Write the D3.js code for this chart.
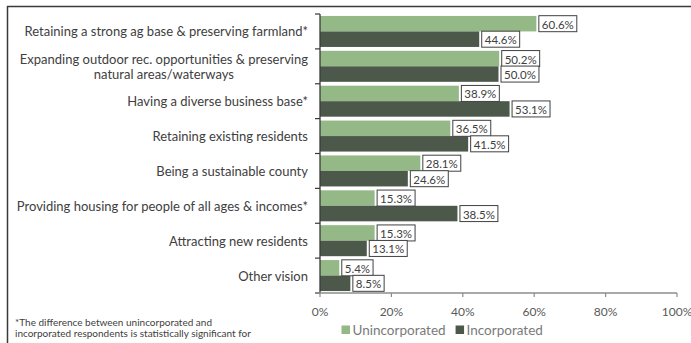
<!DOCTYPE html>
<html>
<head>
<meta charset="utf-8">
<script src="https://cdn.jsdelivr.net/npm/d3@7"></script>
<style>
  html, body { margin: 0; padding: 0; background: #fff; }
  svg { display: block; }
  text { font-family: Lato, "Open Sans", sans-serif; }
</style>
</head>
<body>
<svg id="chart" width="691" height="343"></svg>
<script>
// Vision priorities by respondent type
const categories = [
  ["Retaining a strong ag base & preserving farmland*"],
  ["Expanding outdoor rec. opportunities & preserving", "natural areas/waterways"],
  ["Having a diverse business base*"],
  ["Retaining existing residents"],
  ["Being a sustainable county"],
  ["Providing housing for people of all ages & incomes*"],
  ["Attracting new residents"],
  ["Other vision"]
];
const unincorporated = [60.6, 50.2, 38.9, 36.5, 28.1, 15.3, 15.3, 5.4];
const incorporated   = [44.6, 50.0, 53.1, 41.5, 24.6, 38.5, 13.1, 8.5];
const seriesNames = ["Unincorporated", "Incorporated"];
const seriesColors = ["#94b886", "#4b584a"];
const xTicks = [0, 20, 40, 60, 80, 100];
const footnote = [
  "*The difference between unincorporated and",
  "incorporated respondents is statistically significant for"
];

const svg = d3.select("#chart");
const plot = { left: 320, right: 677, top: 14, bottom: 293 };

// Outer frame (open to the right and bottom)
svg.append("line").attr("x1", 7).attr("x2", 691).attr("y1", 6.5).attr("y2", 6.5)
  .attr("stroke", "#3a3a3a").attr("stroke-width", 1.5);
svg.append("line").attr("x1", 7.5).attr("x2", 7.5).attr("y1", 6).attr("y2", 343)
  .attr("stroke", "#3a3a3a").attr("stroke-width", 1.5);

const x = d3.scaleLinear().domain([0, 100]).range([plot.left, plot.right]);
const y = d3.scaleBand().domain(d3.range(categories.length))
  .range([plot.top, plot.bottom]).padding(0);
const ySub = d3.scaleBand().domain([0, 1])
  .range([0, y.bandwidth()]).paddingOuter(0.125).paddingInner(0);

const rows = categories.map((c, i) => ({
  i, label: c, values: [unincorporated[i], incorporated[i]]
}));

// Bars
const groups = svg.append("g").selectAll("g").data(rows).join("g")
  .attr("transform", d => `translate(0,${y(d.i)})`);

groups.selectAll("rect.bar")
  .data(d => d.values.map((v, s) => ({ v, s })))
  .join("rect")
  .attr("class", "bar")
  .attr("x", x(0))
  .attr("y", d => ySub(d.s))
  .attr("width", d => x(d.v) - x(0))
  .attr("height", ySub.bandwidth())
  .attr("fill", d => seriesColors[d.s]);

// Boxed value labels
const labels = groups.selectAll("g.lbl")
  .data(d => d.values.map((v, s) => ({ v, s })))
  .join("g").attr("class", "lbl");
labels.each(function (d) {
  const g = d3.select(this);
  const t = g.append("text")
    .attr("font-size", 11.5)
    .attr("fill", "#404040")
    .attr("dominant-baseline", "central")
    .text(d3.format(".1f")(d.v) + "%");
  const w = t.node().getComputedTextLength();
  const bx = x(d.v) + 2.5;
  const cy = ySub(d.s) + ySub.bandwidth() / 2;
  g.insert("rect", "text")
    .attr("x", bx).attr("y", cy - 8)
    .attr("width", w + 6).attr("height", 16)
    .attr("fill", "#fff").attr("stroke", "#404040").attr("stroke-width", 1);
  t.attr("x", bx + 3).attr("y", cy + 0.5);
});

// Category axis
svg.append("line").attr("x1", plot.left).attr("x2", plot.left)
  .attr("y1", plot.top).attr("y2", plot.bottom)
  .attr("stroke", "#3a3a3a").attr("stroke-width", 1.3);
const bounds = d3.range(categories.length + 1).map(i => plot.top + i * y.step());
svg.append("g").selectAll("line").data(bounds).join("line")
  .attr("x1", plot.left - 5).attr("x2", plot.left)
  .attr("y1", d => d).attr("y2", d => d)
  .attr("stroke", "#3a3a3a").attr("stroke-width", 1.2);

// Category labels, multi-line labels centred on their widest line
const catG = svg.append("g");
rows.forEach(d => {
  const cy = y(d.i) + y.bandwidth() / 2;
  const lh = 15;
  const n = d.label.length;
  const texts = d.label.map((line, k) => catG.append("text")
    .attr("font-size", 13)
    .attr("fill", "#404040")
    .attr("dominant-baseline", "central")
    .attr("y", cy + (k - (n - 1) / 2) * lh)
    .text(line));
  const widths = texts.map(t => t.node().getComputedTextLength());
  const maxW = d3.max(widths);
  const right = plot.left - 12;
  texts.forEach(t => {
    if (n === 1) t.attr("x", right).attr("text-anchor", "end");
    else t.attr("x", right - maxW / 2).attr("text-anchor", "middle");
  });
});

// Value axis
const xAxis = svg.append("g").attr("transform", `translate(0,${plot.bottom})`);
xAxis.append("line").attr("x1", plot.left - 5).attr("x2", plot.right)
  .attr("stroke", "#8c8c8c").attr("stroke-width", 1.5);
xAxis.selectAll("line.tick").data(xTicks).join("line").attr("class", "tick")
  .attr("x1", d => x(d)).attr("x2", d => x(d)).attr("y1", 0).attr("y2", 4)
  .attr("stroke", "#8c8c8c").attr("stroke-width", 1.2);
xAxis.selectAll("text").data(xTicks).join("text")
  .attr("x", d => x(d)).attr("y", 18.5)
  .attr("text-anchor", "middle").attr("dominant-baseline", "central")
  .attr("font-size", 12).attr("fill", "#595959")
  .text(d => d + "%");

// Legend
const legend = svg.append("g").attr("transform", "translate(341.5,330)");
let lx = 0;
seriesNames.forEach((name, s) => {
  legend.append("rect").attr("x", lx).attr("y", -4.5).attr("width", 8.5).attr("height", 8.5)
    .attr("fill", seriesColors[s]);
  const t = legend.append("text").attr("x", lx + 11).attr("y", 0)
    .attr("dominant-baseline", "central")
    .attr("font-size", 13.5).attr("fill", "#7a7a7a").text(name);
  lx += 11 + t.node().getComputedTextLength() + 10;
});

// Footnote
svg.append("g").selectAll("text").data(footnote).join("text")
  .attr("x", 15).attr("y", (d, i) => 321.5 + i * 11.5)
  .attr("dominant-baseline", "central")
  .attr("font-size", 10).attr("fill", "#404040")
  .text(d => d);
</script>
</body>
</html>
